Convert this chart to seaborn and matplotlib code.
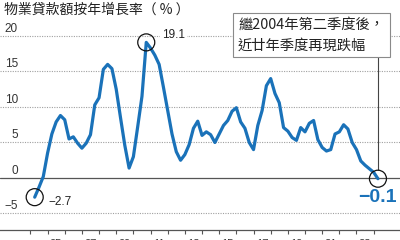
import numpy as np
import pandas as pd
import matplotlib
matplotlib.use("Agg")
import matplotlib.pyplot as plt
import matplotlib.transforms as mtransforms
from matplotlib.patches import Rectangle
import seaborn as sns

# ---- data (quarterly, 2004 Q2 -> 2024 Q2) ----
start_year = 2004.25
growth = [-2.7, -1.3, 0.2, 3.5, 6.2, 7.9, 8.8, 8.2, 5.5, 5.8,
          4.9, 4.2, 4.9, 6.1, 10.3, 11.3, 15.3, 16.0, 15.4, 12.5,
          8.5, 4.6, 1.4, 3.0, 7.2, 11.5, 19.1, 18.3, 17.3, 16.0,
          12.8, 9.5, 6.2, 3.7, 2.5, 3.3, 4.7, 7.0, 8.0, 6.0,
          6.5, 6.1, 5.0, 6.2, 7.4, 8.1, 9.4, 9.9, 7.9, 7.0,
          5.0, 4.0, 7.4, 9.5, 13.0, 14.0, 11.9, 10.6, 7.1, 6.6,
          5.7, 5.3, 7.1, 6.5, 7.7, 8.1, 5.4, 4.3, 3.8, 4.0,
          6.2, 6.5, 7.5, 6.9, 5.0, 4.0, 2.4, 1.8, 1.3, 0.8, -0.1]
years = [start_year + 0.25 * i for i in range(len(growth))]
ytick_vals = [-5, 0, 5, 10, 15, 20]
ytick_labels = ["\u22125", "0", "5", "10", "15", "20"]
xlabel_years = [2005, 2007, 2009, 2011, 2013, 2015, 2017, 2019, 2021, 2023]
xlabel_text = ["05", "07", "09", "11", "13", "15", "17", "19", "21", "23"]
title = "物業貸款額按年增長率（ % ）"
note_lines = ["繼2004年第二季度後，", "近廿年季度再現跌幅"]

df = pd.DataFrame({"year": years, "growth": growth})

sns.set_theme(style="white")
plt.rcParams["font.family"] = ["Liberation Sans", "Noto Sans CJK TC", "DejaVu Sans"]
cjk = ["Noto Sans CJK TC", "DejaVu Sans"]
num = ["Liberation Sans", "DejaVu Sans"]

fig = plt.figure(figsize=(4, 2.4), dpi=100)
ax = fig.add_axes([0, 10 / 240, 1, 200 / 240])

blue = "#1a72b9"
sns.lineplot(data=df, x="year", y="growth", ax=ax, color=blue, lw=2.3,
             solid_joinstyle="round", solid_capstyle="round", zorder=3)

ax.set_ylim(-7.324, 20.845)
ax.set_xlim(2002.228, 2025.535)

# grid lines
for v in ytick_vals:
    if v == 0:
        ax.axhline(v, color="#555555", lw=0.9, zorder=1)
    else:
        ax.axhline(v, color="#a0a0a0", lw=0.8, ls=(0, (1, 1.2)), zorder=1)

# y labels above the lines
ytrans = mtransforms.blended_transform_factory(ax.transAxes, ax.transData)
for v, lab in zip(ytick_vals, ytick_labels):
    ax.annotate(lab, xy=(0.045, v), xycoords=ytrans, xytext=(0, 3),
                textcoords="offset points", ha="right", va="baseline",
                fontsize=8.5, color="#333333", family=num)

ax.set_yticks([])
ax.set_ylabel("")
ax.set_xlabel("")
for s in ["top", "left", "right"]:
    ax.spines[s].set_visible(False)
ax.spines["bottom"].set_color("#555555")
ax.spines["bottom"].set_linewidth(0.9)

ax.set_xticks(np.arange(2004, 2025))
ax.set_xticklabels([])
ax.tick_params(axis="x", which="major", direction="out", length=3,
               width=0.8, color="#555555", bottom=True)
ax.set_xticks([y + 0.5 for y in xlabel_years], minor=True)
ax.set_xticklabels(xlabel_text, minor=True, fontsize=8, color="#333333")
ax.tick_params(axis="x", which="minor", length=0, pad=6.5)

# circles on key points
idx_min = 0
idx_max = int(np.argmax(growth))
idx_last = len(growth) - 1
circ_x = [years[idx_min], years[idx_max], years[idx_last]]
circ_y = [growth[idx_min], growth[idx_max], growth[idx_last]]
ax.scatter(circ_x, circ_y, s=150, facecolors="none", edgecolors="#111111",
           linewidths=0.9, zorder=4, clip_on=False)

ax.annotate("\u22122.7", xy=(years[idx_min], growth[idx_min]), xytext=(10, -3.5),
            textcoords="offset points", ha="left", va="center",
            fontsize=8.5, color="#222222", family=num)
ax.annotate("19.1", xy=(years[idx_max], growth[idx_max]), xytext=(11.5, 5.3),
            textcoords="offset points", ha="left", va="center",
            fontsize=8.5, color="#222222", family=num,
            bbox=dict(boxstyle="square,pad=0.15", fc="white", ec="none"))
ax.annotate("\u22120.1", xy=(years[idx_last], growth[idx_last]), xytext=(13.8, -13.2),
            textcoords="offset points", ha="right", va="center",
            fontsize=14, fontweight="bold", color=blue, family=num)

# connector from note box to last point
ax.vlines(years[idx_last], growth[idx_last] + 1.2, 17.05, color="#444444",
          lw=0.8, zorder=2, clip_on=False)

# title
fig.text(4 / 400, 1 - 9.5 / 240, title, ha="left", va="center",
         fontsize=10, color="#222222", family=cjk)

# note box
rect = Rectangle((233 / 400, 1 - 57 / 240), 157 / 400, 44.3 / 240,
                 transform=fig.transFigure, facecolor="white",
                 edgecolor="#8a8a8a", lw=0.8, zorder=5)
fig.patches.append(rect)
fig.text(238 / 400, 1 - 25 / 240, note_lines[0], ha="left", va="center",
         fontsize=10.3, color="#222222", family=cjk, zorder=6)
fig.text(238 / 400, 1 - 45.5 / 240, note_lines[1], ha="left", va="center",
         fontsize=10.3, color="#222222", family=cjk, zorder=6)

fig.savefig("out.png", dpi=100)
